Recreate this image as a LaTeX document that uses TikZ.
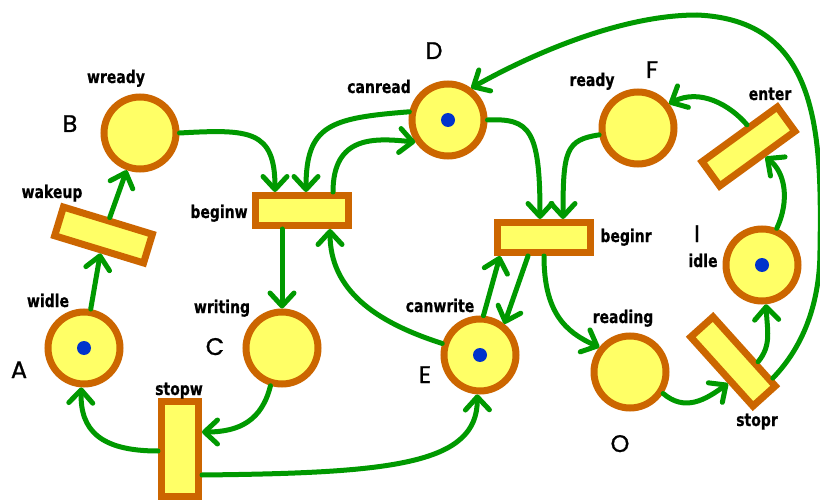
\documentclass[tikz,border=0pt]{standalone}
\usepackage{fontspec}
\usetikzlibrary{arrows.meta,calc}
\newfontfamily\lblfont[FakeStretch=0.8,FakeBold=0.6]{DejaVu Sans}
\newfontfamily\letfont[FakeBold=1]{Poppins}
\definecolor{pborder}{HTML}{CC6600}
\definecolor{pfill}{HTML}{FFFF66}
\definecolor{arcgreen}{HTML}{009900}
\definecolor{tokenblue}{HTML}{0033CC}
\begin{document}
\begin{tikzpicture}[x=1pt,y=-1pt,
  place/.style={circle,draw=pborder,fill=pfill,line width=7pt,minimum size=72pt,inner sep=0pt},
  trans/.style={rectangle,draw=pborder,fill=pfill,line width=7pt,minimum width=93pt,minimum height=30pt,inner sep=0pt},
  arc/.style={draw=arcgreen,line width=5pt,line cap=round,-{Straight Barb[length=13pt,width=24pt,round]}},
  lbl/.style={font=\lblfont\bfseries\fontsize{17.5}{17.5}\selectfont,inner sep=0pt,anchor=base},
  letter/.style={font=\letfont\fontsize{24}{24}\selectfont,inner sep=0pt,anchor=base},
  token/.style={fill=tokenblue}]
\fill[white] (0,0) rectangle (820,500);
\useasboundingbox (0,0) rectangle (820,500);

% places
\node[place] (A) at (84,348) {};
\node[place] (B) at (140,133) {};
\node[place] (C) at (282,348) {};
\node[place] (D) at (448,120) {};
\node[place] (E) at (480,355) {};
\node[place] (F) at (638,128) {};
\node[place] (O) at (630,372) {};
\node[place] (I) at (762,265) {};

% transitions
\node[trans,rotate=-17] (wakeup) at (103.5,235) {};
\node[trans] (beginw) at (302,210.5) {};
\node[trans] (beginr) at (544,237.5) {};
\node[trans,minimum width=37pt,minimum height=95pt] (stopw) at (180,448.5) {};
\node[trans,rotate=36] (enter) at (748.5,146.5) {};
\node[trans,rotate=-48] (stopr) at (733,361.5) {};

% tokens
\fill[token] (A.center) circle (7pt);
\fill[token] (D.center) circle (7pt);
\fill[token] (E.center) circle (7pt);
\fill[token] (I.center) circle (7pt);

% arcs
\draw[arc] (A) -- (wakeup);
\draw[arc] (wakeup) -- (B);
\draw[arc] (B.east) .. controls (250,129) and (275,130) .. (275,0 |- beginw.north);
\draw[arc] (D.168) .. controls (330,118) and (306,125) .. (306,0 |- beginw.north);
\draw[arc] (333,0 |- beginw.north) .. controls (333,135) and (375,138) .. (D.214);
\draw[arc] (C.north |- beginw.south) -- (C.north);
\draw[arc] (C.253) .. controls (262,420) and (240,432) .. (stopw.east |- 0,432);
\draw[arc] (stopw.west |- 0,451) .. controls (100,451) and (80,430) .. (A.266);
\draw[arc] (stopw.east |- 0,475) .. controls (390,473) and (478,465) .. (E.266);
\draw[arc] (E.163) .. controls (375,322) and (330,290) .. (330,0 |- beginw.south);
\draw[arc] (E.85) -- (500,0 |- beginr.south);
\draw[arc] (528,0 |- beginr.south) -- (E.52);
\draw[arc] (D.east) .. controls (530,118) and (540,130) .. (540,0 |- beginr.north);
\draw[arc] (F.190) .. controls (566,140) and (563,150) .. (563,0 |- beginr.north);
\draw[arc] (544,0 |- beginr.south) .. controls (544,312) and (565,332) .. (O.141);
\draw[arc] (O.327) .. controls (685,412) and (705,400) .. ($(stopr.south)!0.26!(stopr.south east)$);
\draw[arc] ($(stopr.north)!0.34!(stopr.north east)$) .. controls (772,345) and (767,330) .. (I.276);
\draw[arc] ($(stopr.north)!0.78!(stopr.north east)$) .. controls (805,345) and (820,300) .. (820,250)
   .. controls (822,130) and (818,20) .. (697,15) .. controls (620,15) and (530,55) .. (D.54);
\draw[arc] (I.68) .. controls (790,200) and (785,172) .. ($(enter.south)!0.15!(enter.south east)$);
\draw[arc] ($(enter.north)!0.23!(enter.north east)$) .. controls (730,105) and (700,88) .. (F.38);

% labels
\node[lbl] (lwready) at (116,83) {wready};
\node[lbl] (lwakeup) at (52,198) {wakeup};
\node[lbl] (lwidle) at (48,307) {widle};
\node[lbl] (lwriting) at (222,313) {writing};
\node[lbl] (lstopw) at (179,395) {stopw};
\node[lbl] (lbeginw) at (219,218) {beginw};
\node[lbl] (lcanread) at (379,93) {canread};
\node[lbl] (lready) at (592,86) {ready};
\node[lbl] (lenter) at (770,100) {enter};
\node[lbl] (lbeginr) at (626,242) {beginr};
\node[lbl] (lidle) at (703,267) {idle};
\node[lbl] (lcanwrite) at (440,312) {canwrite};
\node[lbl] (lreading) at (623,323) {reading};
\node[lbl] (lstopr) at (757,426) {stopr};

\node[letter] (tA) at (19,378) {A};
\node[letter] (tB) at (70,132) {B};
\node[letter] (tC) at (215,355) {C};
\node[letter] (tD) at (434,59) {D};
\node[letter] (tE) at (425,383) {E};
\node[letter] (tF) at (652,78) {F};
\node[letter] (tI) at (697,242) {I};
\node[letter] (tO) at (620,452) {O};
\end{tikzpicture}
\end{document}
